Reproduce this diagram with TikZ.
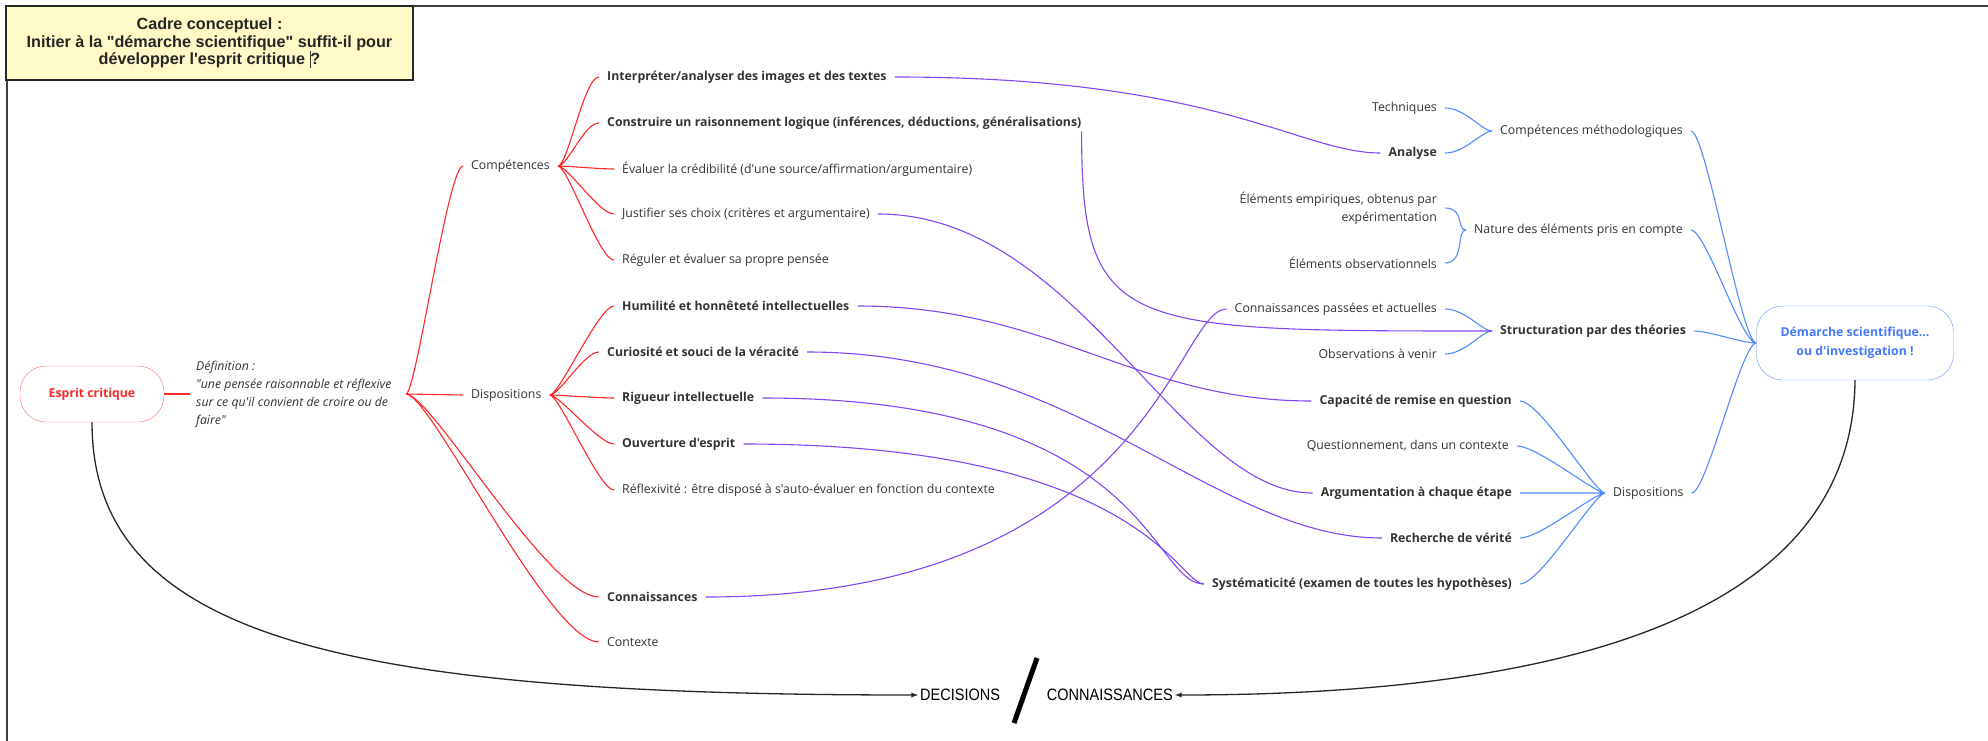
\documentclass[tikz,border=0pt]{standalone}
\usepackage{fontspec}
\usepackage{tikz}
\usetikzlibrary{arrows}
\newfontfamily\mapfont{Open Sans}
\newfontfamily\titfont{Liberation Sans}
\newfontfamily\narfont[FakeStretch=0.88]{Liberation Sans}
\definecolor{rouge}{RGB}{255,40,40}
\definecolor{mauve}{RGB}{130,70,245}
\definecolor{bleu}{RGB}{80,140,255}
\definecolor{texte}{RGB}{51,51,51}
\definecolor{jaune}{RGB}{255,250,200}
\definecolor{bleutxt}{RGB}{70,120,255}
\newcommand{\sz}      {\fontsize{12.3}{14}\selectfont}
\newcommand{\curs}    {\textcolor{black!80}{\rule[-3pt]{0.8pt}{17pt}}}

\begin{document}
\begin{tikzpicture}[x=1pt,y=-1pt,
     every node/.style={inner xsep=8pt,inner ysep=2pt,text=texte,font=\mapfont\sz},
     bf/.style={font=\mapfont\sz\bfseries},
     rl/.style={rouge,line width=1.1pt},
     vl/.style={mauve,line width=1.1pt},
     bl/.style={bleu,line width=1.1pt},
     lt/.style={out=0,in=180,out distance=10pt,in distance=15pt},
     rt/.style={out=0,in=180,out distance=20pt,in distance=10pt},
     st/.style={out=0,in=180,distance=15pt}]
     \useasboundingbox (0,0) rectangle (1988,741);
     \draw[line width=1.5pt,black!75] (7,741) -- (7,6) -- (1988,6);
     \node[draw=black!85,line width=1.5pt,fill=jaune,minimum width=407pt,minimum height=74pt,
       align=center,text=black!85,font=\titfont\bfseries\fontsize{16.2}{17.5}\selectfont] (titre) at (209.5,43)
       {Cadre conceptuel :\\Initier à la "démarche scientifique" suffit-il pour\\développer l'esprit critique \curs?};

     \node[draw=rouge!70,rounded corners=26pt,minimum width=144pt,minimum height=56pt,text=rouge,bf] (ec) at (92,394) {Esprit critique};
     \node[anchor=west,align=left,inner xsep=6pt,font=\mapfont\itshape\fontsize{12.3}{18}\selectfont] (def) at (190,394)
       {Définition :\\"une pensée raisonnable et réflexive\\sur ce qu'il convient de croire ou de\\faire"};
     \coordinate (h0) at (406,394);
     \node[anchor=west] (comp) at (463,166) {Compétences};
     \node[anchor=west] (disp) at (463,395) {Dispositions};
     \node[anchor=west,bf] (conn) at (599,597) {Connaissances};
     \node[anchor=west] (ctx) at (599,642) {Contexte};

     \node[anchor=west,bf] (inter) at (599,77) {Interpréter/analyser des images et des textes};
     \node[anchor=west,bf] (constr) at (599,123) {Construire un raisonnement logique (inférences, déductions, généralisations)};
     \node[anchor=west] (eval) at (614,169) {Évaluer la crédibilité (d'une source/affirmation/argumentaire)};
     \node[anchor=west] (justif) at (614,214) {Justifier ses choix (critères et argumentaire)};
     \node[anchor=west] (regul) at (614,260) {Réguler et évaluer sa propre pensée};

     \node[anchor=west,bf] (humil) at (614,306) {Humilité et honnêteté intellectuelles};
     \node[anchor=west,bf] (curio) at (599,352) {Curiosité et souci de la véracité};
     \node[anchor=west,bf] (rig) at (614,398) {Rigueur intellectuelle};
     \node[anchor=west,bf] (ouv) at (614,444) {Ouverture d'esprit};
     \node[anchor=west] (refl) at (614,490) {Réflexivité : être disposé à s'auto-évaluer en fonction du contexte};

     \node[anchor=east] (tech) at (1445,108) {Techniques};
     \node[anchor=east,bf] (anal) at (1445,153) {Analyse};
     \node[anchor=west] (compm) at (1492,131) {Compétences méthodologiques};
     \node[anchor=east,align=right,font=\mapfont\fontsize{12.3}{18}\selectfont] (empir) at (1445,208) {Éléments empiriques, obtenus par\\expérimentation};
     \node[anchor=east] (obs) at (1445,263) {Éléments observationnels};
     \node[anchor=west] (nature) at (1466,230) {Nature des éléments pris en compte};
     \node[anchor=east] (cpa) at (1445,309) {Connaissances passées et actuelles};
     \node[anchor=east] (venir) at (1445,354) {Observations à venir};
     \node[anchor=west,bf] (struct) at (1492,331) {Structuration par des théories};
     \node[anchor=east,bf] (capac) at (1520,401) {Capacité de remise en question};
     \node[anchor=east] (quest) at (1517,446) {Questionnement, dans un contexte};
     \node[anchor=east,bf] (argum) at (1520,493) {Argumentation à chaque étape};
     \node[anchor=east,bf] (rech) at (1520,538) {Recherche de vérité};
     \node[anchor=east,bf] (syst) at (1520,584) {Systématicité (examen de toutes les hypothèses)};
     \node[anchor=west] (dispr) at (1605,493) {Dispositions};
     \node[draw=bleu!90,rounded corners=26pt,minimum width=197pt,minimum height=74pt,align=center,
       text=bleutxt,font=\mapfont\bfseries\fontsize{12.3}{19}\selectfont] (dem) at (1855,343)
       {Démarche scientifique...\\ou d'investigation !};

     \node[anchor=west,inner xsep=2pt,text=black,font=\narfont\fontsize{16.5}{18}\selectfont] (dec) at (918,695) {DECISIONS};
     \node[anchor=east,inner xsep=2pt,text=black,font=\narfont\fontsize{16.5}{18}\selectfont] (cnn) at (1175,695) {CONNAISSANCES};
     \draw[line width=5pt] (1037,658) -- (1014,723);

     \draw[rl] (ec.east) -- (def.west);
     \draw[rl] (h0) to[lt] (comp.west) (h0) -- (disp.west);
     \draw[rl] (h0) .. controls +(25,0) and +(-50,0) .. (conn.west);
     \draw[rl] (h0) .. controls +(25,0) and +(-50,0) .. (ctx.west);
     \draw[rl] (comp.east) to[lt] (inter.west) (comp.east) to[lt] (constr.west) (comp.east) to[lt] (eval.west)
       (comp.east) to[lt] (justif.west) (comp.east) to[lt] (regul.west);
     \draw[rl] (disp.east) to[lt] (humil.west) (disp.east) to[lt] (curio.west) (disp.east) to[lt] (rig.west)
       (disp.east) to[lt] (ouv.west) (disp.east) to[lt] (refl.west);

     \draw[bl] (tech.east) to[rt] (compm.west) (anal.east) to[rt] (compm.west);
     \draw[bl] (empir.east) to[rt] (nature.west) (obs.east) to[rt] (nature.west);
     \draw[bl] (cpa.east) to[rt] (struct.west) (venir.east) to[rt] (struct.west);
     \draw[bl] (capac.east) to[rt] (dispr.west) (quest.east) to[rt] (dispr.west) (argum.east) to[rt] (dispr.west)
       (rech.east) to[rt] (dispr.west) (syst.east) to[rt] (dispr.west);
     \draw[bl] (compm.east) to[st] (dem.west) (nature.east) to[st] (dem.west) (struct.east) to[st] (dem.west)
       (dispr.east) to[st] (dem.west);

     \draw[vl] (inter.east) .. controls +(324,0) and +(-81,0) .. (anal.west);
     \draw[vl] ([xshift=-8pt]constr.south east) .. controls +(0,200) and +(-372,0) .. (struct.west);
     \draw[vl] (justif.east) .. controls +(201,0) and +(-133,0) .. (argum.west);
     \draw[vl] (humil.east) .. controls +(193,0) and +(-176,0) .. (capac.west);
     \draw[vl] (curio.east) .. controls +(272,0) and +(-167,0) .. (rech.west);
     \draw[vl] (rig.east) .. controls +(388,0) and +(-54,0) .. (syst.west);
     \draw[vl] (ouv.east) .. controls +(396,0) and +(-26,0) .. (syst.west);
     \draw[vl] (conn.east) .. controls +(445,0) and +(-51,0) .. (cpa.west);

     \draw[line width=1.3pt,black!85,-latex] (ec.south) .. controls +(0,218) and +(-568,0) .. (dec.west);
     \draw[line width=1.3pt,black!85,-latex] (dem.south) .. controls +(-2,260) and +(325,0) .. (cnn.east);
\end{tikzpicture}
\end{document}
